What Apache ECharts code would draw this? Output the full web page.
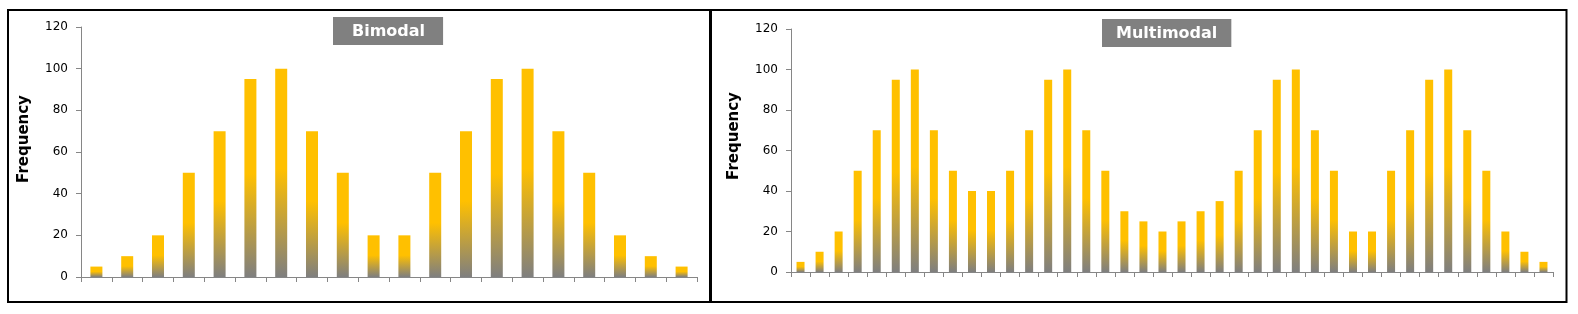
<!DOCTYPE html>
<html>
<head>
<meta charset="utf-8">
<script src="https://cdn.jsdelivr.net/npm/echarts@6/dist/echarts.min.js"></script>
<style>
html,body{margin:0;padding:0;background:#fff;}
#c{width:1578px;height:314px;}
</style>
</head>
<body>
<div id="c"></div>
<script>
var bimodalValues = [5,10,20,50,70,95,100,70,50,20,20,50,70,95,100,70,50,20,10,5];
var multimodalValues = [5,10,20,50,70,95,100,70,50,40,40,50,70,95,100,70,50,30,25,20,25,30,35,50,70,95,100,70,50,20,20,50,70,95,100,70,50,20,10,5];
var bimodalCategories = bimodalValues.map(function(v,i){return String(i+1);});
var multimodalCategories = multimodalValues.map(function(v,i){return String(i+1);});
var yTicks = {min:0, max:120, interval:20};
var titles = ['Bimodal','Multimodal'];
var yTitle = 'Frequency';

var axisColor = '#868686';
var font = 'DejaVu Sans';
function grad(){
  return new echarts.graphic.LinearGradient(0,0,0,1,[
    {offset:0,color:'#FFC000'},
    {offset:0.48,color:'#FFC000'},
    {offset:1,color:'#7F7F7F'}
  ]);
}
function xAx(idx,data){
  return {type:'category',gridIndex:idx,data:data,boundaryGap:true,
    axisLine:{show:true,lineStyle:{color:axisColor,width:1}},
    axisTick:{show:true,length:5,lineStyle:{color:axisColor}},
    axisLabel:{show:false},splitLine:{show:false}};
}
function yAx(idx){
  return {type:'value',gridIndex:idx,min:yTicks.min,max:yTicks.max,interval:yTicks.interval,
    axisLine:{show:true,lineStyle:{color:axisColor,width:1}},
    axisTick:{show:true,length:5,lineStyle:{color:axisColor}},
    axisLabel:{margin:13,fontFamily:font,fontSize:12,color:'#000'},
    splitLine:{show:false}};
}
var chart = echarts.init(document.getElementById('c'));
chart.setOption({
  animation:false,
  backgroundColor:'#fff',
  title:[
    {text:titles[0],left:333,top:17,backgroundColor:'#808080',padding:[5,18,4,19],
     textStyle:{color:'#fff',fontFamily:font,fontWeight:'bold',fontSize:16,lineHeight:19}},
    {text:titles[1],left:1102,top:19,backgroundColor:'#808080',padding:[5,14,4,14],
     textStyle:{color:'#fff',fontFamily:font,fontWeight:'bold',fontSize:16,lineHeight:19}}
  ],
  grid:[
    {left:81,top:27,width:616,height:250},
    {left:791,top:29,width:762,height:243}
  ],
  xAxis:[xAx(0,bimodalCategories),xAx(1,multimodalCategories)],
  yAxis:[yAx(0),yAx(1)],
  series:[
    {type:'bar',xAxisIndex:0,yAxisIndex:0,data:bimodalValues,barWidth:12,itemStyle:{color:grad()}},
    {type:'bar',xAxisIndex:1,yAxisIndex:1,data:multimodalValues,barWidth:8,itemStyle:{color:grad()}}
  ],
  graphic:[
    {type:'rect',shape:{x:8,y:10,width:702,height:292},style:{fill:'none',stroke:'#000',lineWidth:2},z:-1},
    {type:'rect',shape:{x:710.5,y:10,width:856,height:292},style:{fill:'none',stroke:'#000',lineWidth:2},z:-1},
    {type:'rect',shape:{x:709,y:10,width:3,height:292},style:{fill:'#000'},z:-1},
    {type:'text',x:24,y:139,rotation:Math.PI/2,
     style:{text:yTitle,fontFamily:font,fontWeight:'bold',fontSize:15,fill:'#000',align:'center',verticalAlign:'middle'}},
    {type:'text',x:734,y:136,rotation:Math.PI/2,
     style:{text:yTitle,fontFamily:font,fontWeight:'bold',fontSize:15,fill:'#000',align:'center',verticalAlign:'middle'}}
  ]
});
</script>
</body>
</html>
